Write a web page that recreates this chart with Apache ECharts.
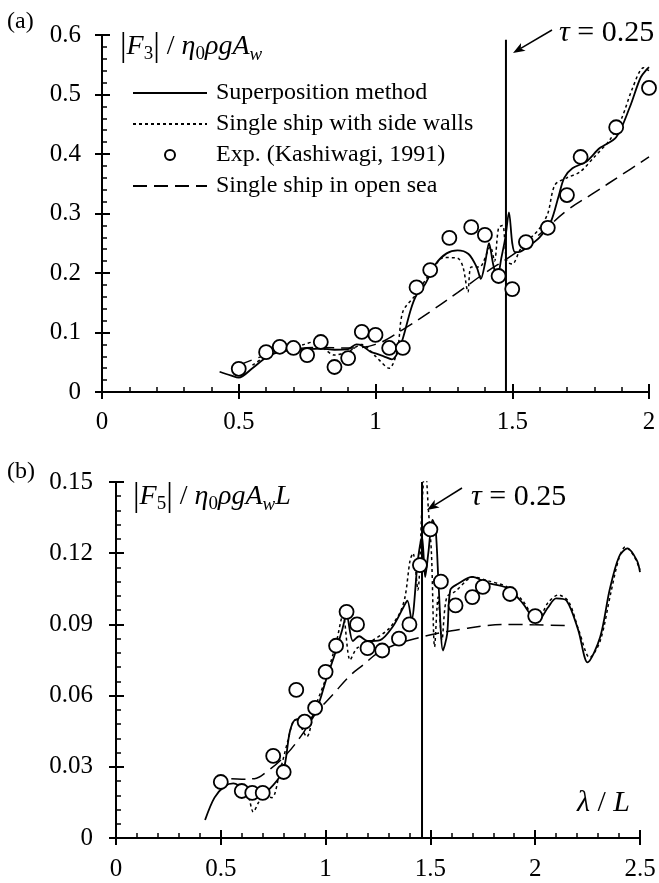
<!DOCTYPE html>
<html>
<head>
<meta charset="utf-8">
<script src="https://cdn.jsdelivr.net/npm/echarts@6/dist/echarts.min.js"></script>
<style>html,body{margin:0;padding:0;background:#fff}#c{width:659px;height:883px}</style>
</head>
<body>
<div id="c"></div>
<script>
// ---------- Panel (a): |F3| ----------
const aExpX = [0.50,0.60,0.65,0.70,0.75,0.80,0.85,0.90,0.95,1.00,1.05,1.10,1.15,1.20,1.27,1.35,1.40,1.45,1.50,1.55,1.63,1.70,1.75,1.88,2.00];
const aExpY = [0.039,0.067,0.076,0.074,0.062,0.084,0.042,0.057,0.101,0.096,0.074,0.074,0.176,0.205,0.259,0.277,0.264,0.195,0.173,0.252,0.276,0.331,0.395,0.445,0.511];

const aSuperX = [0.43,0.47,0.50,0.55,0.60,0.65,0.70,0.75,0.80,0.85,0.90,0.93,0.95,0.98,1.00,1.03,1.06,1.08,1.10,1.13,1.15,1.18,1.22,1.26,1.30,1.34,1.37,1.385,1.40,1.415,1.43,1.445,1.46,1.475,1.488,1.50,1.51,1.53,1.56,1.60,1.64,1.67,1.69,1.72,1.77,1.82,1.88,1.93,1.97,2.00];
const aSuperY = [0.034,0.028,0.024,0.040,0.058,0.068,0.070,0.072,0.073,0.071,0.072,0.080,0.078,0.068,0.065,0.060,0.055,0.065,0.090,0.140,0.163,0.180,0.215,0.233,0.238,0.232,0.210,0.190,0.215,0.250,0.215,0.190,0.225,0.260,0.302,0.250,0.235,0.236,0.245,0.260,0.285,0.330,0.360,0.376,0.387,0.410,0.428,0.479,0.529,0.546];

const aWallX = [0.55,0.60,0.65,0.70,0.74,0.78,0.82,0.85,0.90,0.95,1.00,1.05,1.08,1.10,1.15,1.20,1.25,1.30,1.32,1.338,1.35,1.38,1.42,1.435,1.45,1.465,1.48,1.50,1.53,1.57,1.60,1.63,1.656,1.70,1.748,1.80,1.857,1.90,1.94,1.98,2.00];
const aWallY = [0.045,0.060,0.068,0.075,0.080,0.085,0.070,0.062,0.068,0.080,0.060,0.040,0.070,0.135,0.165,0.200,0.226,0.225,0.210,0.168,0.210,0.210,0.244,0.220,0.276,0.280,0.220,0.215,0.240,0.260,0.275,0.300,0.348,0.360,0.370,0.395,0.424,0.460,0.511,0.545,0.540];

const aOpenX = [0.50,0.60,0.70,0.80,0.90,1.00,1.10,1.20,1.30,1.40,1.50,1.60,1.70,1.80,1.90,2.00];
const aOpenY = [0.045,0.062,0.072,0.075,0.074,0.080,0.105,0.135,0.167,0.200,0.230,0.265,0.305,0.335,0.365,0.395];

const aTauX = 1.477;
const aTauTop = 0.592;

// ---------- Panel (b): |F5| ----------
const bExpX = [0.50,0.60,0.65,0.70,0.75,0.80,0.86,0.90,0.95,1.00,1.05,1.10,1.15,1.20,1.27,1.35,1.40,1.45,1.50,1.55,1.62,1.70,1.75,1.88,2.00];
const bExpY = [0.0236,0.0198,0.019,0.019,0.0346,0.0278,0.0624,0.049,0.0548,0.070,0.081,0.0953,0.090,0.080,0.079,0.084,0.090,0.115,0.130,0.108,0.098,0.1015,0.1058,0.1028,0.0935];

const bSuperX = [0.425,0.47,0.52,0.56,0.60,0.65,0.70,0.75,0.80,0.83,0.86,0.91,0.96,1.00,1.05,1.08,1.10,1.13,1.16,1.20,1.26,1.32,1.37,1.39,1.41,1.44,1.46,1.475,1.49,1.51,1.525,1.54,1.56,1.58,1.595,1.63,1.70,1.77,1.865,1.94,2.01,2.06,2.10,2.15,2.205,2.25,2.31,2.355,2.40,2.44,2.485,2.50];
const bSuperY = [0.0076,0.017,0.0219,0.023,0.0215,0.0195,0.019,0.0223,0.029,0.045,0.050,0.049,0.055,0.066,0.079,0.088,0.094,0.083,0.085,0.083,0.0834,0.089,0.097,0.100,0.092,0.117,0.127,0.110,0.120,0.134,0.130,0.105,0.079,0.086,0.1045,0.107,0.110,0.1075,0.1054,0.099,0.091,0.097,0.101,0.100,0.0877,0.074,0.0847,0.1045,0.1185,0.122,0.117,0.112];

const bWallX = [0.60,0.63,0.655,0.68,0.70,0.744,0.78,0.82,0.845,0.87,0.89,0.91,0.95,1.00,1.05,1.083,1.117,1.15,1.226,1.30,1.355,1.38,1.403,1.417,1.44,1.46,1.475,1.49,1.505,1.52,1.537,1.555,1.578,1.62,1.675,1.70,1.77,1.865,1.94,2.01,2.06,2.11,2.16,2.21,2.26,2.31,2.36,2.40,2.43,2.47,2.50];
const bWallY = [0.021,0.018,0.011,0.015,0.018,0.017,0.0274,0.041,0.049,0.050,0.0455,0.0426,0.055,0.067,0.082,0.094,0.075,0.080,0.0834,0.088,0.095,0.102,0.117,0.120,0.1045,0.140,0.158,0.139,0.120,0.0805,0.1015,0.0834,0.1015,0.104,0.1087,0.110,0.1085,0.1058,0.100,0.0915,0.099,0.1024,0.0995,0.087,0.076,0.083,0.103,0.118,0.1227,0.119,0.113];

const bOpenX = [0.55,0.60,0.66,0.72,0.80,0.88,0.95,1.04,1.12,1.18,1.25,1.35,1.45,1.55,1.65,1.77,1.90,2.00,2.15];
const bOpenY = [0.025,0.0248,0.025,0.028,0.034,0.0426,0.052,0.061,0.0687,0.073,0.078,0.082,0.0845,0.0865,0.088,0.0895,0.090,0.0898,0.0895];

const bTauX = 1.46;
const bTauTop = 0.15;

// ---------- Tick settings ----------
const aXMax = 2, aYMax = 0.6, aYStep = 0.1;
const bXMax = 2.5, bYMax = 0.15, bYStep = 0.03;
const xStep = 0.5;

const names = ['Superposition method','Single ship with side walls','Exp. (Kashiwagi, 1991)','Single ship in open sea'];

const FONT = "'Liberation Serif','Times New Roman',serif";
const zip = (xs, ys) => xs.map((x, i) => [x, ys[i]]);
const CLEAR = 'rgba(0,0,0,0)';

function mainAxis(dim, grid, max, step, margin) {
  return {
    gridIndex: grid, type: 'value', min: 0, max: max, interval: step,
    position: dim === 'x' ? 'bottom' : 'left',
    axisLine: { show: true, onZero: false, lineStyle: { color: '#000', width: 2 } },
    axisTick: { show: true, inside: true, length: 8, lineStyle: { color: '#000', width: 2 } },
    minorTick: { show: true, splitNumber: 5, length: 5, lineStyle: { color: '#000', width: 1.5 } },
    axisLabel: { show: true, color: '#000', fontFamily: FONT, fontSize: 25, margin: margin },
    splitLine: { show: false }
  };
}
function outerAxis(dim, grid, max, step) {
  return {
    gridIndex: grid, type: 'value', min: 0, max: max, interval: step,
    position: dim === 'x' ? 'bottom' : 'left',
    axisLine: { show: false, onZero: false },
    axisTick: { show: true, inside: false, length: 7, lineStyle: { color: '#000', width: 2 } },
    axisLabel: { show: false },
    splitLine: { show: false }
  };
}

function seriesFor(xi, yi, sx, sy, wx, wy, ex, ey, ox, oy, tx, ttop) {
  return [
    { name: names[0], type: 'line', xAxisIndex: xi, yAxisIndex: yi, data: zip(sx, sy), symbol: 'none', smooth: 0.3,
      itemStyle: { color: CLEAR }, lineStyle: { color: '#000', width: 1.8, type: 'solid' }, z: 3 },
    { name: names[1], type: 'line', xAxisIndex: xi, yAxisIndex: yi, data: zip(wx, wy), symbol: 'none', smooth: 0.3,
      itemStyle: { color: CLEAR }, lineStyle: { color: '#000', width: 1.5, type: [3, 3] }, z: 3 },
    { name: names[2], type: 'scatter', xAxisIndex: xi, yAxisIndex: yi, data: zip(ex, ey), symbol: 'circle', symbolSize: 14,
      itemStyle: { color: '#fff', borderColor: '#000', borderWidth: 1.8, opacity: 1 }, z: 5 },
    { name: names[3], type: 'line', xAxisIndex: xi, yAxisIndex: yi, data: zip(ox, oy), symbol: 'none', smooth: 0.4,
      itemStyle: { color: CLEAR }, lineStyle: { color: '#000', width: 1.5, type: [14, 7] }, z: 3 },
    { name: 'tau', type: 'line', xAxisIndex: xi, yAxisIndex: yi, data: [[tx, 0], [tx, ttop]], symbol: 'none',
      itemStyle: { color: CLEAR }, lineStyle: { color: '#000', width: 2 }, z: 4, silent: true }
  ];
}

const titleRich = {
  i: { fontFamily: FONT, fontStyle: 'italic', fontSize: 28, lineHeight: 34, color: '#000' },
  r: { fontFamily: FONT, fontSize: 28, lineHeight: 34, color: '#000' },
  b: { fontFamily: FONT, fontSize: 33, lineHeight: 34, color: '#000' },
  s: { fontFamily: FONT, fontSize: 19, lineHeight: 17, verticalAlign: 'bottom', color: '#000' },
  si: { fontFamily: FONT, fontStyle: 'italic', fontSize: 19, lineHeight: 17, verticalAlign: 'bottom', color: '#000' },
  t: { fontFamily: FONT, fontStyle: 'italic', fontSize: 30, lineHeight: 34, color: '#000' },
  tr: { fontFamily: FONT, fontSize: 30, lineHeight: 34, color: '#000' }
};

function txt(x, y, text, extra) {
  return { type: 'text', x: x, y: y, z: 10,
    style: Object.assign({ text: text, rich: titleRich, fill: '#000', align: 'left', verticalAlign: 'middle',
      font: '27px ' + FONT }, extra || {}) };
}
function arrow(x1, y1, x2, y2) {
  const dx = x2 - x1, dy = y2 - y1, L = Math.hypot(dx, dy);
  const ux = dx / L, uy = dy / L, px = -uy, py = ux;
  const bx = x2 - 12 * ux, by = y2 - 12 * uy;
  return [
    { type: 'line', z: 10, shape: { x1: x1, y1: y1, x2: bx + 3 * ux, y2: by + 3 * uy }, style: { stroke: '#000', lineWidth: 1.5 } },
    { type: 'polygon', z: 10, shape: { points: [[x2, y2], [bx + 4.5 * px, by + 4.5 * py], [bx + 3 * ux, by + 3 * uy], [bx - 4.5 * px, by - 4.5 * py]] },
      style: { fill: '#000' } }
  ];
}

const chart = echarts.init(document.getElementById('c'), null, { renderer: 'canvas' });
chart.setOption({
  backgroundColor: '#fff',
  animation: false,
  grid: [
    { left: 102, top: 35, width: 547, height: 357, containLabel: false },
    { left: 116, top: 482, width: 524, height: 356, containLabel: false }
  ],
  xAxis: [
    mainAxis('x', 0, aXMax, xStep, 18), outerAxis('x', 0, aXMax, xStep),
    mainAxis('x', 1, bXMax, xStep, 19), outerAxis('x', 1, bXMax, xStep)
  ],
  yAxis: [
    mainAxis('y', 0, aYMax, aYStep, 21), outerAxis('y', 0, aYMax, aYStep),
    mainAxis('y', 1, bYMax, bYStep, 23), outerAxis('y', 1, bYMax, bYStep)
  ],
  legend: {
    data: names, orient: 'vertical', left: 132, top: 81, padding: 0,
    itemWidth: 74, itemHeight: 10, itemGap: 7,
    textStyle: { fontFamily: FONT, fontSize: 24, color: '#000', lineHeight: 24, padding: [0, 0, 0, 4] },
    selectedMode: false
  },
  series: [].concat(
    seriesFor(0, 0, aSuperX, aSuperY, aWallX, aWallY, aExpX, aExpY, aOpenX, aOpenY, aTauX, aTauTop),
    seriesFor(2, 2, bSuperX, bSuperY, bWallX, bWallY, bExpX, bExpY, bOpenX, bOpenY, bTauX, bTauTop)
  ),
  graphic: [].concat(
    [
      txt(7, 22, '(a)', { font: '24px ' + FONT }),
      txt(7, 472, '(b)', { font: '24px ' + FONT }),
      txt(120, 47, '{b||}{i|F}{s|3}{b||}{r| / }{i|η}{s|0}{i|ρgA}{si|w}'),
      txt(133, 497, '{b||}{i|F}{s|5}{b||}{r| / }{i|η}{s|0}{i|ρgA}{si|w}{i|L}'),
      txt(559, 33, '{t|τ}{tr| = 0.25}'),
      txt(471, 497, '{t|τ}{tr| = 0.25}'),
      txt(577, 803, '{t|λ}{tr| / }{t|L}')
    ],
    arrow(552, 30, 513, 53),
    arrow(462, 488, 427, 510)
  )
});
</script>
</body>
</html>
